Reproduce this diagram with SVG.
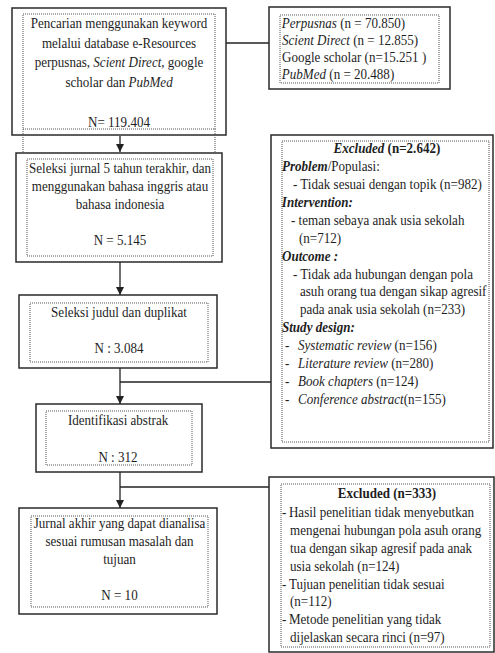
<svg xmlns="http://www.w3.org/2000/svg" width="495" height="653" viewBox="0 0 495 653">
<style>
.box{fill:#fff;stroke:#2a2a2a;stroke-width:1.5}
.dot{fill:none;stroke:#555;stroke-width:1;stroke-dasharray:1 1}
.ln{fill:none;stroke:#222;stroke-width:1.3}
.t{font-family:"Liberation Serif","Times New Roman",serif;font-size:15px;fill:#1e1e1e;transform-box:fill-box;transform:scaleX(0.87)}
.m{text-anchor:middle;transform-origin:center}
.s{transform-origin:left center}
.i{font-style:italic}
.b{font-weight:bold}
.bi{font-weight:bold;font-style:italic}
</style>
<defs>
<marker id="arr" viewBox="0 0 10 10" refX="10" refY="5" markerWidth="8" markerHeight="8" markerUnits="userSpaceOnUse" orient="auto">
<path d="M0,0 L10,5 L0,10 z" fill="#222"/>
</marker>
</defs>
<rect width="495" height="653" fill="#fff"/>
<g id="connectors">
<line class="ln" x1="226" y1="43" x2="269" y2="43"/>
<line class="ln" x1="120" y1="136" x2="120" y2="152" marker-end="url(#arr)"/>
<line class="ln" x1="120" y1="262" x2="120" y2="295" marker-end="url(#arr)"/>
<line class="ln" x1="120" y1="368" x2="120" y2="404" marker-end="url(#arr)"/>
<line class="ln" x1="120" y1="382" x2="271" y2="382"/>
<line class="ln" x1="120" y1="472" x2="120" y2="508" marker-end="url(#arr)"/>
<line class="ln" x1="120" y1="487" x2="269" y2="487"/>
</g>
<g id="n1">
<rect class="box" x="12" y="8" width="214" height="127"/>
<rect class="dot" x="23" y="14" width="192" height="115"/>
<line class="dot" x1="23" y1="129" x2="23" y2="152"/>
<line class="dot" x1="215" y1="129" x2="215" y2="152"/>
<text class="t m" x="119" y="28">Pencarian  menggunakan keyword</text>
<text class="t m" x="119" y="48">melalui database e-Resources</text>
<text class="t m" x="119" y="67">perpusnas, <tspan class="i">Scient Direct</tspan>, google</text>
<text class="t m" x="119" y="87">scholar dan <tspan class="i">PubMed</tspan></text>
<text class="t m" x="119" y="127">N= 119.404</text>
</g>
<g id="db">
<rect class="box" x="269" y="7" width="181" height="82"/>
<rect class="dot" x="280" y="15" width="159" height="68"/>
<text class="t s" x="282" y="28"><tspan class="i">Perpusnas</tspan> (n = 70.850)</text>
<text class="t s" x="282" y="45"><tspan class="i">Scient Direct</tspan> (n = 12.855)</text>
<text class="t s" x="282" y="62">Google scholar (n=15.251 )</text>
<text class="t s" x="282" y="79"><tspan class="i">PubMed</tspan> (n = 20.488)</text>
</g>
<g id="n2">
<rect class="box" x="16" y="153" width="206" height="109"/>
<rect class="dot" x="27" y="159" width="186" height="97"/>
<text class="t m" x="120" y="173">Seleksi jurnal 5 tahun terakhir, dan</text>
<text class="t m" x="120" y="191">menggunakan bahasa inggris atau</text>
<text class="t m" x="120" y="209">bahasa indonesia</text>
<text class="t m" x="120" y="245">N = 5.145</text>
</g>
<g id="ex1">
<rect class="box" x="271" y="135" width="222" height="313"/>
<rect class="dot" x="282" y="141" width="207" height="301"/>
<text class="t m" x="387" y="153"><tspan class="bi">Excluded</tspan><tspan class="b"> (n=2.642)</tspan></text>
<text class="t s" x="282" y="171"><tspan class="bi">Problem</tspan>/Populasi:</text>
<text class="t s" x="293" y="189">- Tidak sesuai dengan topik (n=982)</text>
<text class="t s" x="282" y="207"><tspan class="bi">Intervention:</tspan></text>
<text class="t s" x="291" y="225">- teman sebaya anak usia sekolah</text>
<text class="t s" x="299" y="243">(n=712)</text>
<text class="t s" x="282" y="261"><tspan class="bi">Outcome :</tspan></text>
<text class="t s" x="293" y="279">- Tidak ada hubungan  dengan pola</text>
<text class="t s" x="300" y="296">asuh orang tua dengan sikap agresif</text>
<text class="t s" x="300" y="314">pada anak usia sekolah (n=233)</text>
<text class="t s" x="282" y="332"><tspan class="bi">Study design:</tspan></text>
<text class="t s" x="285" y="350">-<tspan x="300" class="i">Systematic review</tspan> (n=156)</text>
<text class="t s" x="285" y="368">-<tspan x="300" class="i">Literature review</tspan> (n=280)</text>
<text class="t s" x="285" y="386">-<tspan x="300" class="i">Book chapters</tspan> (n=124)</text>
<text class="t s" x="285" y="404">-<tspan x="300" class="i">Conference abstract</tspan>(n=155)</text>
</g>
<g id="n3">
<rect class="box" x="19" y="295" width="198" height="73"/>
<rect class="dot" x="30" y="303" width="178" height="59"/>
<text class="t m" x="119" y="317">Seleksi judul dan duplikat</text>
<text class="t m" x="119" y="353">N : 3.084</text>
</g>
<g id="n4">
<rect class="box" x="36" y="404" width="166" height="68"/>
<rect class="dot" x="46" y="411" width="146" height="54"/>
<text class="t m" x="118" y="425">Identifikasi abstrak</text>
<text class="t m" x="118" y="462">N : 312</text>
</g>
<g id="ex2">
<rect class="box" x="269" y="477" width="225" height="175"/>
<rect class="dot" x="281" y="484" width="209" height="163"/>
<text class="t m" x="387" y="498"><tspan class="b">Excluded (n=333)</tspan></text>
<text class="t s" x="282" y="517">-<tspan x="290">Hasil penelitian  tidak menyebutkan</tspan></text>
<text class="t s" x="290" y="535">mengenai hubungan pola asuh orang</text>
<text class="t s" x="290" y="553">tua dengan sikap agresif pada anak</text>
<text class="t s" x="290" y="571">usia sekolah (n=124)</text>
<text class="t s" x="282" y="589">-<tspan x="290">Tujuan penelitian  tidak sesuai</tspan></text>
<text class="t s" x="290" y="606">(n=112)</text>
<text class="t s" x="282" y="624">-<tspan x="290">Metode penelitian  yang tidak</tspan></text>
<text class="t s" x="290" y="642">dijelaskan secara rinci (n=97)</text>
</g>
<g id="n5">
<rect class="box" x="19" y="508" width="198" height="106"/>
<rect class="dot" x="31" y="516" width="177" height="91"/>
<text class="t m" x="119.5" y="528">Jurnal akhir yang dapat dianalisa</text>
<text class="t m" x="119.5" y="546">sesuai rumusan masalah dan</text>
<text class="t m" x="119.5" y="564">tujuan</text>
<text class="t m" x="119.5" y="600">N = 10</text>
</g>
</svg>
